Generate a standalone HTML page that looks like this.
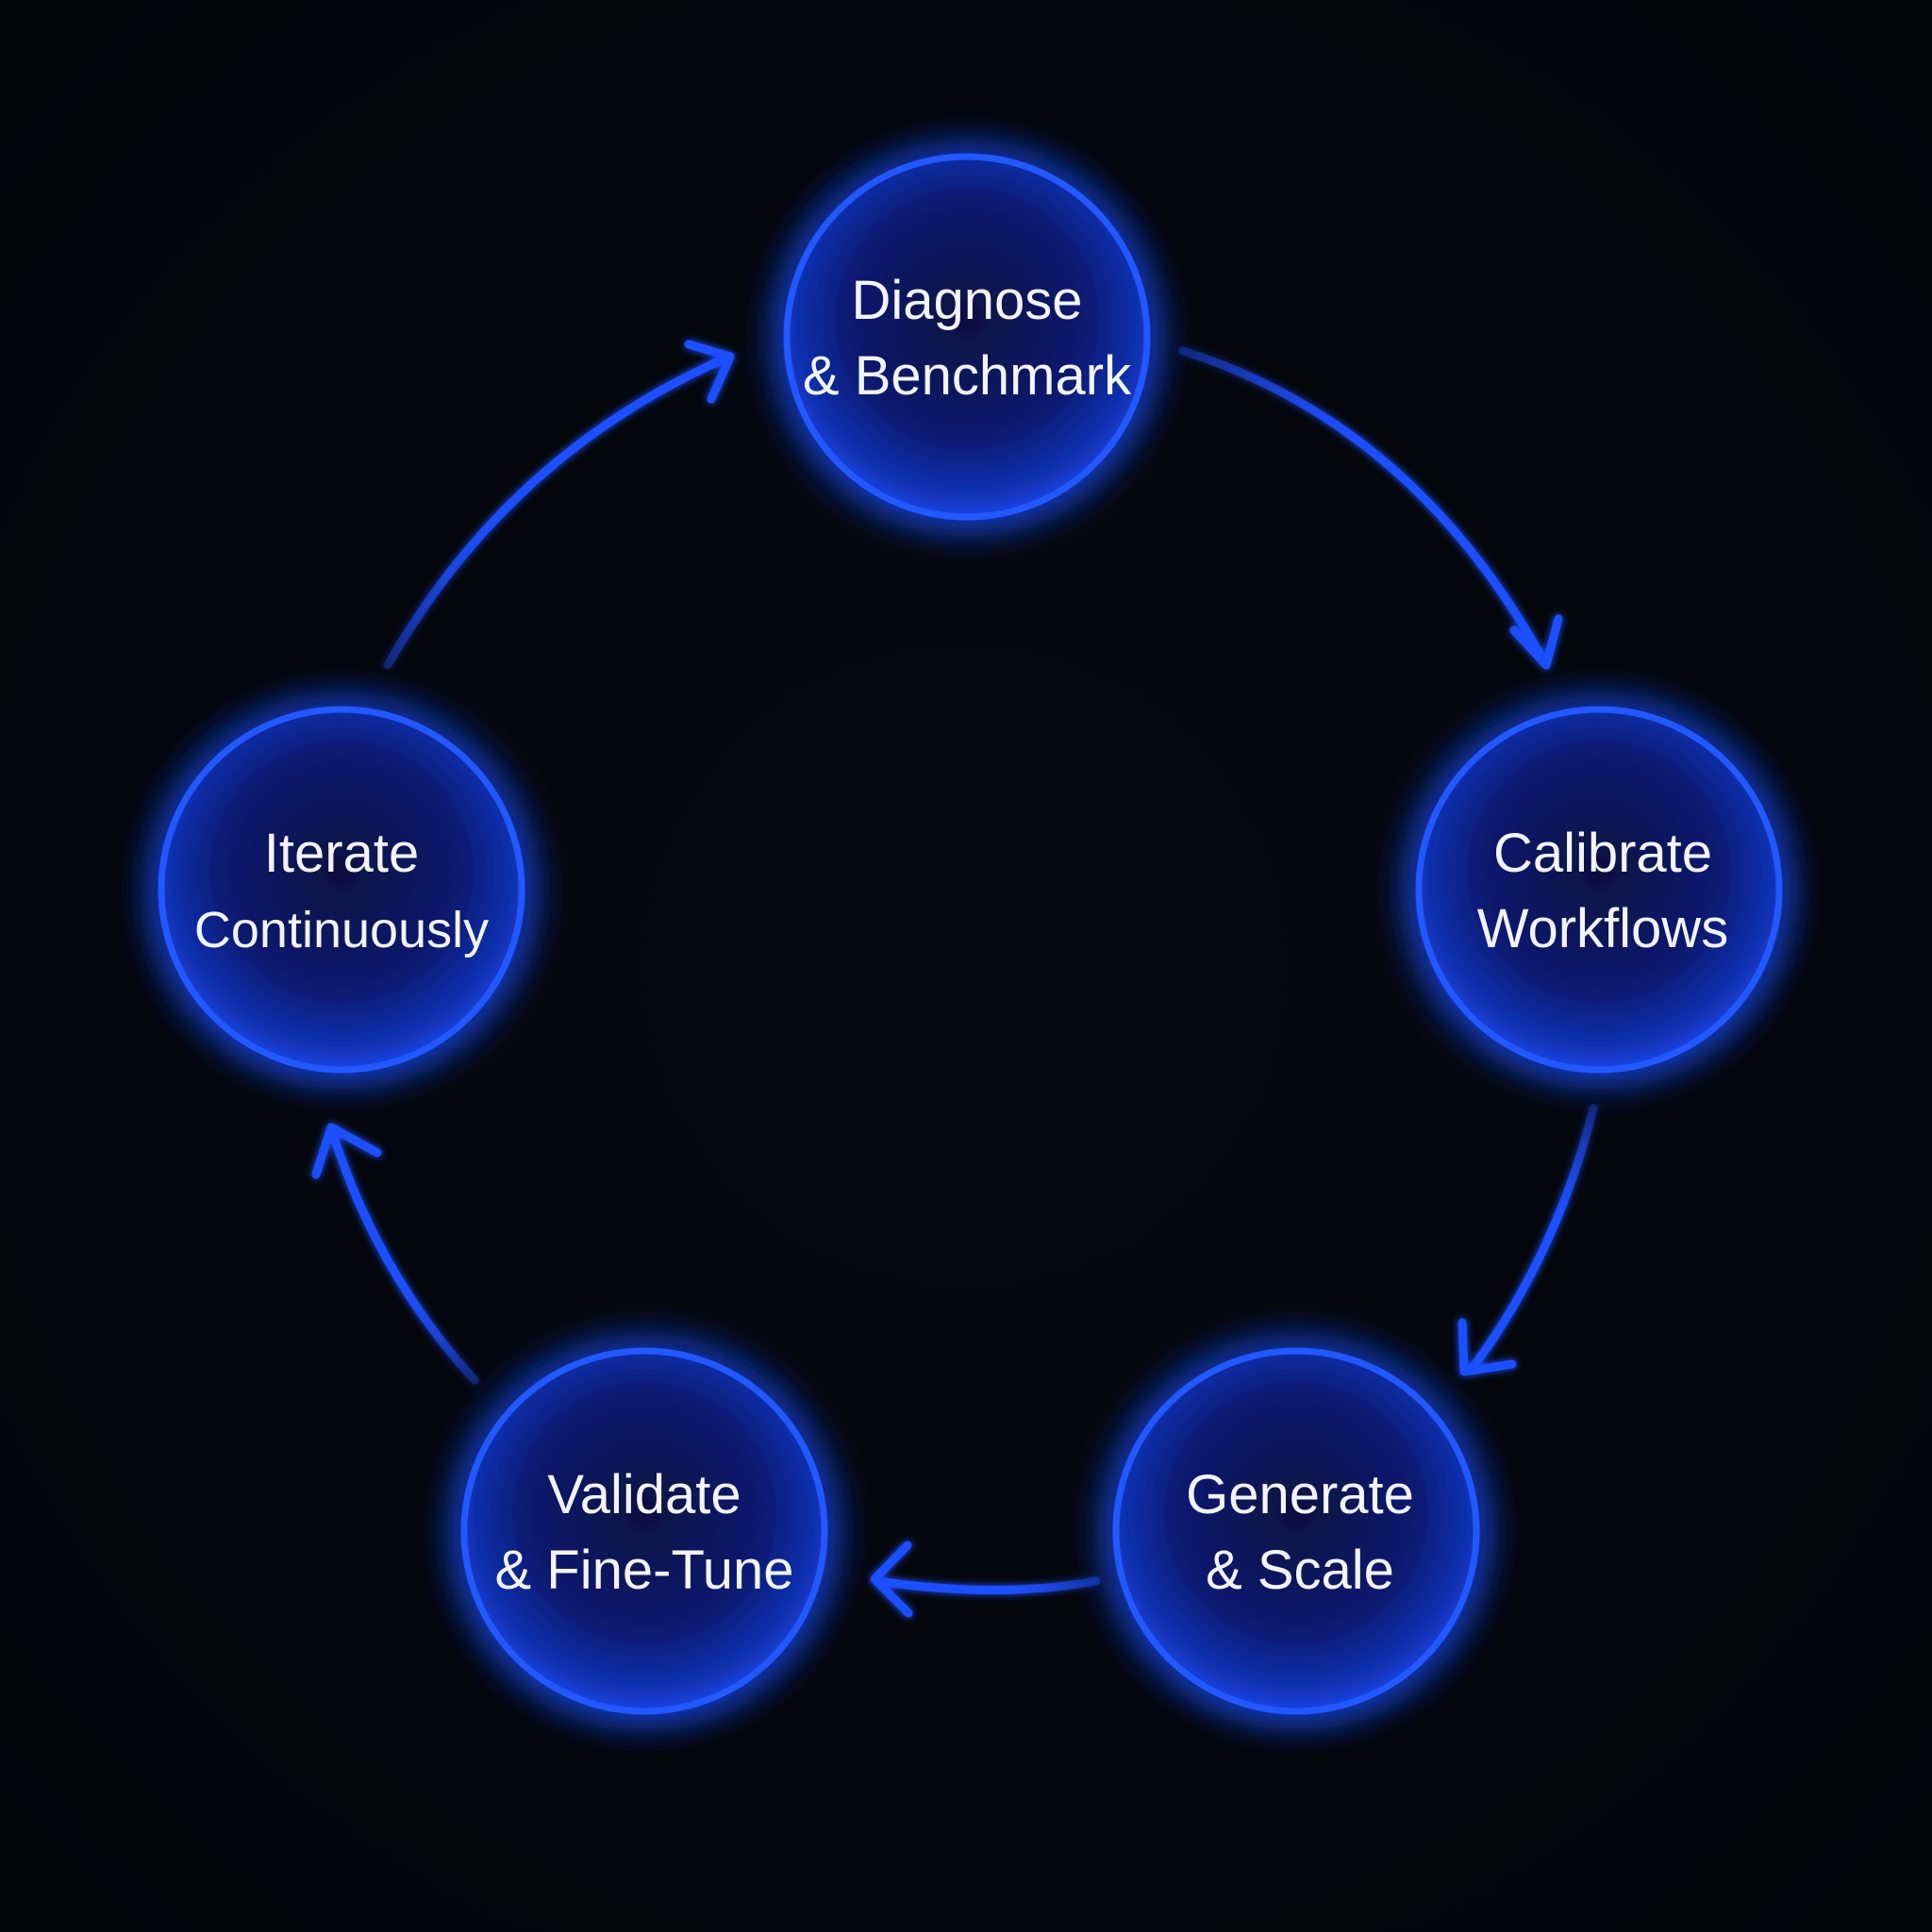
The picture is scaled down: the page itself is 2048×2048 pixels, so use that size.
<!DOCTYPE html>
<html><head><meta charset="utf-8"><style>
html,body{margin:0;padding:0;background:#04060a;}
svg{display:block}
text{font-family:"Liberation Sans",sans-serif;fill:#f2f4ff;text-anchor:middle;}
</style></head><body>
<svg width="2048" height="2048" viewBox="0 0 2048 2048">
<defs>
<radialGradient id="bg" cx="50%" cy="50%" r="70%">
<stop offset="0" stop-color="#070a12"/><stop offset="1" stop-color="#030408"/>
</radialGradient>
<radialGradient id="cf" cx="50%" cy="45%" r="55%">
<stop offset="0" stop-color="#071040"/><stop offset="0.6" stop-color="#0a1a70"/><stop offset="0.9" stop-color="#1233b8"/><stop offset="1" stop-color="#1a45e6"/>
</radialGradient>
<filter id="glow" x="-50%" y="-50%" width="200%" height="200%">
<feGaussianBlur stdDeviation="22" result="b"/>
<feMerge><feMergeNode in="b"/><feMergeNode in="b"/><feMergeNode in="SourceGraphic"/></feMerge>
</filter>
<filter id="aglow" x="-20%" y="-20%" width="140%" height="140%">
<feGaussianBlur stdDeviation="4" result="b"/>
<feMerge><feMergeNode in="b"/><feMergeNode in="SourceGraphic"/></feMerge>
</filter>
<linearGradient id="g1" gradientUnits="userSpaceOnUse" x1="1254" y1="372" x2="1639" y2="705"><stop offset="0" stop-color="#1f4fff" stop-opacity="0.3"/><stop offset="0.4" stop-color="#1f4fff"/></linearGradient>
<linearGradient id="g2" gradientUnits="userSpaceOnUse" x1="1689" y1="1175" x2="1561" y2="1450"><stop offset="0" stop-color="#1f4fff" stop-opacity="0.3"/><stop offset="0.4" stop-color="#1f4fff"/></linearGradient>
<linearGradient id="g3" gradientUnits="userSpaceOnUse" x1="1162" y1="1676" x2="930" y2="1676"><stop offset="0" stop-color="#1f4fff" stop-opacity="0.4"/><stop offset="0.4" stop-color="#1f4fff"/></linearGradient>
<linearGradient id="g4" gradientUnits="userSpaceOnUse" x1="503" y1="1463" x2="353" y2="1202"><stop offset="0" stop-color="#1f4fff" stop-opacity="0.3"/><stop offset="0.4" stop-color="#1f4fff"/></linearGradient>
<linearGradient id="g5" gradientUnits="userSpaceOnUse" x1="411" y1="705" x2="771" y2="379"><stop offset="0" stop-color="#1f4fff" stop-opacity="0.3"/><stop offset="0.4" stop-color="#1f4fff"/></linearGradient>
</defs>
<rect width="2048" height="2048" fill="url(#bg)"/>
<g fill="url(#cf)" stroke="#2358ff" stroke-width="7" filter="url(#glow)">
<circle cx="1025" cy="357" r="191"/>
<circle cx="1695" cy="943" r="191"/>
<circle cx="1374" cy="1623" r="191"/>
<circle cx="683" cy="1623" r="191"/>
<circle cx="362" cy="943" r="191"/>
</g>
<g fill="none" stroke-width="9" stroke-linecap="round" stroke-linejoin="round" filter="url(#aglow)" stroke="#1f4fff">
<path d="M1254 372 Q1500 450 1639 705" stroke="url(#g1)"/>
<path d="M1605 668 L1639 705 L1652 656"/>
<path d="M1689 1175 Q1650 1330 1561 1450" stroke="url(#g2)"/>
<path d="M1550 1402 L1552 1454 L1603 1446"/>
<path d="M1162 1676 Q1060 1695 930 1676" stroke="url(#g3)"/>
<path d="M962 1638 L927 1674 L963 1710"/>
<path d="M503 1463 Q400 1350 353 1202" stroke="url(#g4)"/>
<path d="M335 1245 L351 1195 L400 1222"/>
<path d="M411 705 Q540 480 771 379" stroke="url(#g5)"/>
<path d="M730 365 L774 378 L754 423"/>
</g>
<g font-size="58">
<text x="1025" y="338">Diagnose</text>
<text x="1025" y="418">&amp; Benchmark</text>
<text x="1699" y="924">Calibrate</text>
<text x="1699" y="1004">Workflows</text>
<text x="1378" y="1604">Generate</text>
<text x="1378" y="1684">&amp; Scale</text>
<text x="683" y="1604">Validate</text>
<text x="683" y="1684">&amp; Fine-Tune</text>
<text x="362" y="924">Iterate</text>
<text x="362" y="1004" font-size="54">Continuously</text>
</g>
</svg>
</body></html>
